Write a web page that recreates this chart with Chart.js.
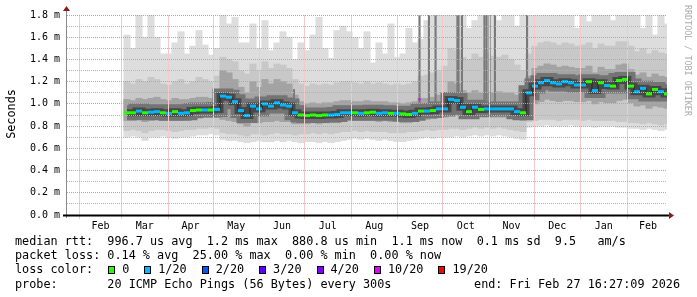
<!DOCTYPE html>
<html>
<head>
<meta charset="utf-8">
<script src="https://cdn.jsdelivr.net/npm/chart.js@4.4.0/dist/chart.umd.min.js"></script>
<style>
  body { margin: 0; background: #fff; }
  #wrap { position: relative; width: 697px; height: 297px; font-family: "DejaVu Sans Mono", monospace; color: #000; overflow: hidden; }
  #chart { position: absolute; left: 0; top: 0; }
  .lg { position: absolute; left: 15px; white-space: pre; font-size: 11.8px; line-height: 14px; }
  #ylab { position: absolute; left: -19px; top: 107px; width: 60px; text-align: center; font-size: 11.8px; line-height: 14px; transform: rotate(-90deg); }
  #credit { position: absolute; left: 683px; top: 5px; writing-mode: vertical-rl; font-size: 8.4px; color: #aaa; }
  .box { display: inline-block; width: 5px; height: 6px; border: 1px solid #000; margin: 0 7px 0 15px; vertical-align: -1px; }
</style>
</head>
<body>
<div id="wrap">
  <canvas id="chart" width="697" height="297"></canvas>
  <div id="ylab">Seconds</div>
  <div id="credit">RRDTOOL / TOBI OETIKER</div>
  <div class="lg" style="top:234px">median rtt:  996.7 us avg  1.2 ms max  880.8 us min  1.1 ms now  0.1 ms sd  9.5   am/s</div>
  <div class="lg" style="top:248px">packet loss: 0.14 % avg  25.00 % max  0.00 % min  0.00 % now</div>
  <div class="lg" id="lossRow" style="top:262px">loss color:</div>
  <div class="lg" style="top:277px">probe:       20 ICMP Echo Pings (56 Bytes) every 300s</div>
  <div class="lg" style="top:277px;left:auto;right:17px">end: Fri Feb 27 16:27:09 2026</div>
</div>
<script>
// x axis = days since the start of the 400 day window (Jan 23 2025 16:27)
const axisDays = 400;
const monthEdges = [8.31, 36.31, 67.31, 97.31, 128.31, 158.31, 189.31, 220.31, 250.31, 281.31, 311.31, 342.31, 373.31, 401.31];
const monthNames = ["Feb", "Mar", "Apr", "May", "Jun", "Jul", "Aug", "Sep", "Oct", "Nov", "Dec", "Jan", "Feb"];
const yMajorTicks = [0, 0.2, 0.4, 0.6, 0.8, 1.0, 1.2, 1.4, 1.6, 1.8];
const yMinorTicks = [0.1, 0.3, 0.5, 0.7, 0.9, 1.1, 1.3, 1.5, 1.7];

// one value per 4-day bin, first bin starts on day 38 (early March)
const firstBinDay = 38;
const binLength = 4;

// rtt in ms
const rttMedian = [
  0.92, 0.92, 0.935, 0.92, 0.925, 0.93, 0.92, 0.915, 0.93, 0.915, 0.92, 0.94, 0.945, 0.945, 0.945,
  0.95, 1.07, 1.06, 1.02, 0.94, 0.895, 0.98, 0.955, 1.0, 0.98, 1.01, 0.99, 0.98, 0.92,
  0.9, 0.895, 0.9, 0.895, 0.9, 0.9, 0.905, 0.92, 0.92, 0.92, 0.915, 0.92, 0.925, 0.915, 0.92, 0.915, 0.915, 0.91, 0.905, 0.915, 0.935, 0.935, 0.94, 0.955, 0.955,
  1.04, 1.03, 0.97, 0.93, 0.97, 0.95, 0.955, 0.955, 0.955, 0.955, 0.955, 0.93, 0.92,
  1.1, 1.16, 1.19, 1.21, 1.19, 1.18, 1.2, 1.19, 1.17, 1.17, 1.2, 1.12, 1.19, 1.165, 1.16, 1.21, 1.22, 1.16, 1.11, 1.14, 1.09, 1.13, 1.11, 1.09
];
// lost pings out of 20
const lossCount = [
  0, 0, 1, 0, 1, 1, 0, 1, 0, 1, 1, 0, 0, 1, 0,
  1, 1, 1, 1, 1, 1, 1, 1, 1, 1, 1, 1, 1, 1,
  0, 0, 0, 0, 0, 1, 1, 1, 1, 0, 1, 0, 0, 1, 1, 0, 1, 0, 0, 1, 0, 1, 0, 1, 1,
  1, 1, 1, 0, 1, 0, 1, 1, 1, 1, 1, 1, 0,
  1, 1, 1, 1, 1, 1, 1, 1, 1, 1, 0, 1, 0, 1, 0, 0, 0, 0, 1, 1, 0, 0, 1, 0
];
const rttMin = [
  0.7, 0.71, 0.7, 0.67, 0.7, 0.7, 0.71, 0.7, 0.69, 0.7, 0.7, 0.71, 0.72, 0.72, 0.73,
  0.72, 0.68, 0.67, 0.67, 0.66, 0.65, 0.66, 0.67, 0.66, 0.66, 0.67, 0.66, 0.67, 0.66,
  0.65, 0.66, 0.66, 0.65, 0.66, 0.65, 0.66, 0.67, 0.68, 0.69, 0.68, 0.69, 0.68, 0.67, 0.68, 0.67, 0.66, 0.66, 0.67, 0.68, 0.69, 0.7, 0.69, 0.7, 0.7,
  0.7, 0.71, 0.7, 0.71, 0.72, 0.71, 0.72, 0.71, 0.72, 0.71, 0.7, 0.69, 0.68,
  0.79, 0.8, 0.8, 0.81, 0.8, 0.8, 0.8, 0.81, 0.8, 0.8, 0.8, 0.79, 0.8, 0.8, 0.8, 0.79, 0.79, 0.78, 0.78, 0.77, 0.78, 0.77, 0.76, 0.77
];
const rttP10 = [
  0.76, 0.77, 0.76, 0.74, 0.76, 0.77, 0.77, 0.76, 0.75, 0.76, 0.77, 0.77, 0.78, 0.78, 0.79,
  0.78, 0.74, 0.73, 0.73, 0.72, 0.71, 0.73, 0.73, 0.72, 0.73, 0.74, 0.73, 0.73, 0.72,
  0.73, 0.73, 0.74, 0.73, 0.74, 0.73, 0.74, 0.75, 0.75, 0.76, 0.75, 0.76, 0.75, 0.75, 0.75, 0.74, 0.74, 0.74, 0.75, 0.75, 0.76, 0.77, 0.76, 0.77, 0.77,
  0.78, 0.78, 0.77, 0.78, 0.79, 0.78, 0.79, 0.78, 0.79, 0.78, 0.77, 0.76, 0.75,
  0.84, 0.85, 0.86, 0.86, 0.86, 0.85, 0.86, 0.86, 0.86, 0.85, 0.86, 0.85, 0.85, 0.85, 0.85, 0.84, 0.84, 0.83, 0.83, 0.82, 0.83, 0.82, 0.81, 0.82
];
const rttP25 = [
  0.85, 0.85, 0.86, 0.84, 0.85, 0.86, 0.85, 0.85, 0.85, 0.85, 0.86, 0.87, 0.87, 0.88, 0.88,
  0.88, 0.86, 0.85, 0.84, 0.82, 0.8, 0.83, 0.83, 0.84, 0.84, 0.85, 0.84, 0.84, 0.82,
  0.82, 0.82, 0.83, 0.82, 0.83, 0.83, 0.83, 0.84, 0.85, 0.85, 0.85, 0.85, 0.85, 0.84, 0.85, 0.84, 0.84, 0.83, 0.83, 0.84, 0.86, 0.86, 0.87, 0.88, 0.88,
  0.9, 0.9, 0.88, 0.87, 0.88, 0.88, 0.88, 0.88, 0.88, 0.88, 0.88, 0.86, 0.85,
  0.95, 1.0, 1.02, 1.04, 1.03, 1.02, 1.03, 1.03, 1.02, 1.02, 1.03, 1.0, 1.02, 1.01, 1.01, 1.03, 1.04, 1.01, 0.98, 0.99, 0.96, 0.98, 0.97, 0.96
];
const rttP75 = [
  1.04, 1.03, 1.05, 1.04, 1.05, 1.06, 1.04, 1.03, 1.05, 1.04, 1.04, 1.05, 1.06, 1.06, 1.05,
  1.1, 1.3, 1.28, 1.22, 1.15, 1.1, 1.2, 1.15, 1.22, 1.18, 1.22, 1.2, 1.18, 1.08,
  1.02, 1.0, 1.01, 1.0, 1.01, 1.01, 1.02, 1.03, 1.03, 1.02, 1.02, 1.03, 1.02, 1.02, 1.02, 1.01, 1.01, 1.0, 1.01, 1.02, 1.05, 1.05, 1.06, 1.08, 1.1,
  1.2, 1.18, 1.12, 1.1, 1.12, 1.1, 1.1, 1.1, 1.11, 1.1, 1.1, 1.08, 1.05,
  1.25, 1.32, 1.34, 1.36, 1.35, 1.33, 1.34, 1.33, 1.32, 1.32, 1.34, 1.28, 1.33, 1.31, 1.31, 1.35, 1.36, 1.31, 1.26, 1.28, 1.24, 1.27, 1.25, 1.24
];
const rttP90 = [
  1.2, 1.18, 1.22, 1.2, 1.24, 1.22, 1.18, 1.17, 1.2, 1.22, 1.18, 1.2, 1.24, 1.22, 1.2,
  1.25, 1.42, 1.4, 1.38, 1.3, 1.27, 1.36, 1.3, 1.38, 1.32, 1.36, 1.35, 1.32, 1.22,
  1.18, 1.16, 1.18, 1.17, 1.18, 1.17, 1.19, 1.2, 1.2, 1.19, 1.18, 1.2, 1.18, 1.19, 1.18, 1.17, 1.18, 1.17, 1.18, 1.2, 1.25, 1.26, 1.28, 1.3, 1.34,
  1.5, 1.48, 1.42, 1.4, 1.45, 1.42, 1.45, 1.43, 1.42, 1.44, 1.4, 1.35, 1.3,
  1.45, 1.52, 1.55, 1.56, 1.55, 1.53, 1.55, 1.54, 1.52, 1.53, 1.55, 1.5, 1.54, 1.52, 1.52, 1.56, 1.56, 1.52, 1.47, 1.5, 1.45, 1.48, 1.46, 1.45
];
const rttMax = [
  1.62, 1.5, 1.8, 1.6, 1.8, 1.6, 1.45, 1.45, 1.55, 1.65, 1.45, 1.52, 1.66, 1.53, 1.44,
  1.5, 1.8, 1.72, 1.78, 1.55, 1.55, 1.72, 1.5, 1.75, 1.48, 1.55, 1.65, 1.6, 1.4,
  1.55, 1.48, 1.62, 1.78, 1.5, 1.41, 1.66, 1.7, 1.65, 1.6, 1.5, 1.65, 1.37, 1.55, 1.45, 1.72, 1.42, 1.45, 1.68, 1.55, 1.58, 1.75, 1.8, 1.8, 1.8,
  1.8, 1.8, 1.8, 1.68, 1.75, 1.8, 1.8, 1.8, 1.75, 1.8, 1.8, 1.7, 1.8,
  1.8, 1.8, 1.8, 1.8, 1.8, 1.8, 1.8, 1.8, 1.68, 1.8, 1.74, 1.8, 1.8, 1.8, 1.75, 1.8, 1.8, 1.8, 1.8, 1.68, 1.8, 1.62, 1.8, 1.72
];

// short bursts of slow pings (day, low ms, high ms)
const spikeDays = [151.3, 235.0, 241.3, 245.7, 260.3, 261.0, 263.3, 278.3, 279.7, 281.7, 285.3, 306.7];
const spikeLow  = [0.93, 0.95, 0.95, 0.95, 1.03, 1.03, 0.97, 0.96, 0.96, 0.96, 0.96, 1.1];
const spikeHigh = [1.13, 1.8, 1.8, 1.8, 1.8, 1.8, 1.8, 1.8, 1.8, 1.8, 1.8, 1.8];

// single high-loss sample
const lossEventDays = [235.0];
const lossEventRtt = [1.04];
const lossEventCount = [10];

// loss legend
const lossSteps = [0, 1, 2, 3, 4, 10, 19];
const lossLabels = ["0", "1/20", "2/20", "3/20", "4/20", "10/20", "19/20"];
const lossColors = ["#26ff00", "#00b8ff", "#0059ff", "#5e00ff", "#7e00ff", "#dd00ff", "#ff0000"];

function lossColor(n) {
  let c = lossColors[0];
  lossSteps.forEach((s, i) => { if (n >= s) c = lossColors[i]; });
  return c;
}

// loss legend row
const lossRow = document.getElementById("lossRow");
lossLabels.forEach((lbl, i) => {
  const b = document.createElement("span");
  b.className = "box";
  b.style.background = lossColors[i];
  lossRow.appendChild(b);
  lossRow.appendChild(document.createTextNode(lbl));
});

const binCenters = rttMedian.map((_, i) => firstBinDay + i * binLength + binLength / 2);
const band = (lo, hi) => binCenters.map((x, i) => ({ x: x, y: [lo[i], hi[i]] }));
const pts = (vals) => binCenters.map((x, i) => ({ x: x, y: vals[i] }));

const monthMids = monthNames.map((_, i) => (monthEdges[i] + monthEdges[i + 1]) / 2);
const edgeTicks = monthEdges.filter((d) => d <= axisDays);
const isMajorY = (v) => yMajorTicks.some((t) => Math.abs(t - v) < 0.001);

const majorGrid = "#de9494";
const minorGrid = "#b4b4b4";

// month lines on top of the smoke
const monthGrid = {
  id: "monthGrid",
  afterDatasetsDraw(chart) {
    const { ctx, chartArea: a } = chart;
    const xs = chart.scales.x;
    ctx.save();
    ctx.strokeStyle = "#f1caca";
    ctx.lineWidth = 1;
    edgeTicks.forEach((d) => {
      const px = Math.round(xs.getPixelForValue(d)) + 0.5;
      ctx.beginPath();
      ctx.moveTo(px, a.top);
      ctx.lineTo(px, a.bottom + 4);
      ctx.stroke();
    });
    ctx.restore();
  }
};

// axis lines with little arrows, drawn like rrdtool
const rrdAxes = {
  id: "rrdAxes",
  afterDraw(chart) {
    const { ctx, chartArea: a } = chart;
    ctx.save();
    ctx.strokeStyle = "#888";
    ctx.lineWidth = 1;
    ctx.beginPath();
    ctx.moveTo(a.left - 0.5, a.bottom + 3);
    ctx.lineTo(a.left - 0.5, a.top - 5);
    ctx.stroke();
    ctx.strokeStyle = "#000";
    ctx.lineWidth = 2;
    ctx.beginPath();
    ctx.moveTo(a.left - 4, a.bottom + 0.5);
    ctx.lineTo(a.right + 2, a.bottom + 0.5);
    ctx.stroke();
    ctx.fillStyle = "#8b1c1c";
    ctx.beginPath();
    ctx.moveTo(a.right + 2, a.bottom - 3);
    ctx.lineTo(a.right + 7, a.bottom + 0.5);
    ctx.lineTo(a.right + 2, a.bottom + 4);
    ctx.fill();
    ctx.beginPath();
    ctx.moveTo(a.left - 4, a.top - 4);
    ctx.lineTo(a.left - 0.5, a.top - 9);
    ctx.lineTo(a.left + 3, a.top - 4);
    ctx.fill();
    ctx.restore();
  }
};

const font = { family: "DejaVu Sans Mono", size: 10 };

new Chart(document.getElementById("chart"), {
  type: "bar",
  data: {
    datasets: [
      { label: "median", type: "line", data: pts(rttMedian), showLine: false, pointStyle: "line",
        pointRadius: 3, pointBorderWidth: 3, pointBorderColor: (c) => lossColor(lossCount[c.dataIndex]), order: 1 },
      { label: "loss event", type: "line", data: lossEventDays.map((x, i) => ({ x: x, y: lossEventRtt[i] })), showLine: false,
        pointStyle: "rect", pointRadius: 1.5, pointBorderWidth: 0, pointBackgroundColor: lossEventCount.map(lossColor), order: 0 },
      { label: "median step", type: "line", data: pts(rttMedian), stepped: "middle", borderColor: "#222", borderWidth: 1,
        pointRadius: 0, fill: false, order: 2 },
      { label: "core", type: "line", data: pts(rttMedian), stepped: "middle", borderColor: "#484848", borderWidth: 7,
        pointRadius: 0, fill: false, order: 3 },
      { label: "inner smoke", type: "line", data: pts(rttMedian), stepped: "middle", borderColor: "#747474", borderWidth: 15,
        pointRadius: 0, fill: false, order: 4 },
      { label: "spikes", data: spikeDays.map((x, i) => ({ x: x, y: [spikeLow[i], spikeHigh[i]] })), backgroundColor: "#7a7a7a",
        barThickness: 1.5, grouped: false, order: 5 },
      { label: "p25-p75", data: band(rttP25, rttP75), backgroundColor: "#a3a3a3", barThickness: 6.4, grouped: false, order: 6 },
      { label: "p10-p90", data: band(rttP10, rttP90), backgroundColor: "#c8c8c8", barThickness: 6.4, grouped: false, order: 7 },
      { label: "min-max", data: band(rttMin, rttMax), backgroundColor: "#dddddd", barThickness: 6.4, grouped: false, order: 8 }
    ]
  },
  options: {
    responsive: false,
    animation: false,
    layout: { padding: { left: 0, top: 15, right: 30, bottom: 0 } },
    plugins: { legend: { display: false }, tooltip: { enabled: false } },
    scales: {
      x: {
        type: "linear", min: 0, max: axisDays, offset: false,
        afterBuildTicks: (s) => { s.ticks = monthMids.map((v) => ({ value: v })); },
        afterFit: (s) => { s.height = 82; },
        ticks: {
          autoSkip: false, maxRotation: 0, padding: 5, color: "#000", font: font,
          callback: (v, i) => monthNames[i]
        },
        grid: { display: false, drawTicks: false },
        border: { display: false }
      },
      y: {
        type: "linear", min: 0, max: 1.8,
        afterBuildTicks: (s) => { s.ticks = yMajorTicks.concat(yMinorTicks).sort((p, q) => p - q).map((v) => ({ value: v })); },
        afterFit: (s) => { s.width = 67; },
        ticks: {
          autoSkip: false, padding: 7, color: "#000", font: font,
          callback: (v) => (isMajorY(v) ? v.toFixed(1) + " m" : "")
        },
        grid: {
          z: 1, drawTicks: false,
          color: (c) => (c.tick && isMajorY(c.tick.value) ? majorGrid : minorGrid)
        },
        border: { display: false, dash: [1, 1] }
      }
    }
  },
  plugins: [monthGrid, rrdAxes]
});
</script>
</body>
</html>
